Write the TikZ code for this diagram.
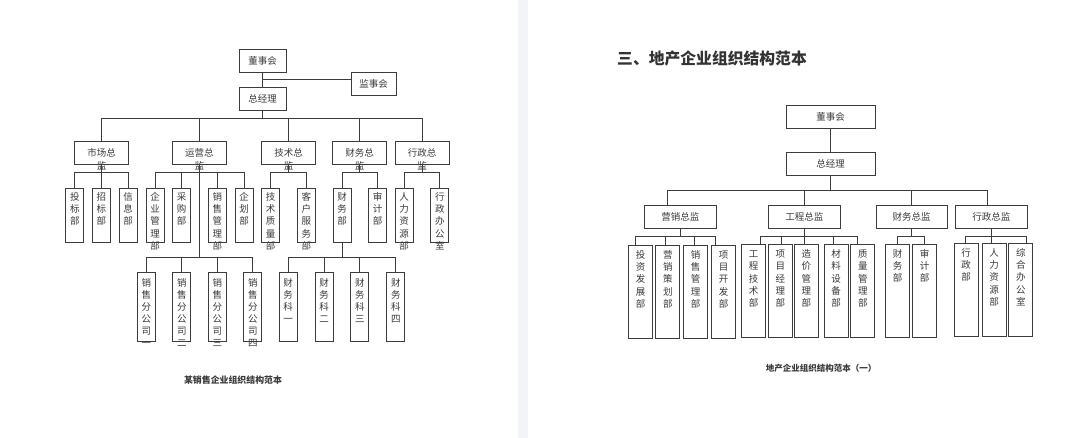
\documentclass[tikz,border=0pt]{standalone}
\usepackage{fontspec}
\setmainfont{Noto Sans CJK SC}
\usetikzlibrary{calc}
\definecolor{ln}{HTML}{3C3C3C}
\definecolor{tx}{HTML}{3A3A3A}
\definecolor{ttl}{HTML}{333333}
\definecolor{strip}{HTML}{F3F4F8}
\newcommand\fs[2]{\fontsize{#1}{#2}\selectfont}
\newcommand\vtx[2]{\raisebox{#1}[0pt][0pt]{\smash{\begin{tabular}[t]{@{}c@{}}#2\end{tabular}}}}
\tikzset{
  box/.style={draw=ln, line width=0.9pt, inner sep=0pt, text=tx, font=\fs{9.5}{12}},
  topbox/.style={box, minimum width=47, minimum height=23},
  ldir/.style={box, minimum width=54, minimum height=23.3, font=\fs{9.5}{13}},
  lsub/.style={box, minimum width=18, minimum height=54, font=\fs{9.5}{12.3}},
  lthr/.style={box, minimum width=18, minimum height=69.5, font=\fs{9.5}{12}},
  rtop/.style={box, minimum width=89, minimum height=23.3},
  rdir/.style={box, minimum width=71.3, minimum height=23.3},
  rsub/.style={box, minimum width=24, minimum height=93, font=\fs{9.5}{12.1}},
  conn/.style={draw=ln, line width=0.9pt},
  captxt/.style={inner sep=0pt, text=tx},
}
\begin{document}
\begin{tikzpicture}[x=1pt, y=-1pt]
\useasboundingbox (0,0) rectangle (1080,438);
\fill[white] (0,0) rectangle (1080,438);
\fill[strip] (517.7,0) rectangle (527.7,438);

% ---------------- left chart ----------------
\node[topbox] (a0) at (262.5,60.5) {董事会};
\node[topbox, minimum width=45] (js) at (373.5,83.5) {监事会};
\node[topbox] (zjl) at (262.5,99) {总经理};
\coordinate (jsj) at ($(js.north west)!0.35!(js.south west)$);
\draw[conn] (a0.south) -- (zjl.north);
\draw[conn] (jsj) -- (jsj -| a0.south);

\node[ldir] (m1) at (101.5,152.7) {\vtx{-4.1pt}{市场总\\监}};
\node[ldir] (m2) at (199.3,152.7) {\vtx{-4.1pt}{运营总\\监}};
\node[ldir] (m3) at (288.5,152.7) {\vtx{-4.1pt}{技术总\\监}};
\node[ldir] (m4) at (359.5,152.7) {\vtx{-4.1pt}{财务总\\监}};
\node[ldir] (m5) at (422,152.7) {\vtx{-4.1pt}{行政总\\监}};

\coordinate (LB) at (0,118.3);
\coordinate (SB) at (0,172.7);
\coordinate (TB) at (0,257.3);
\draw[conn] (zjl.south) -- (zjl.south |- LB);
\draw[conn] (m1.north) |- (m5.north |- LB) -- (m5.north);
\foreach \m in {m2,m3,m4} \draw[conn] (\m.north) -- (\m.north |- LB);

\node[lsub] (s1) at (74.8,215) {\vtx{14.7pt}{投\\标\\部}};
\node[lsub] (s2) at (101.3,215) {\vtx{14.7pt}{招\\标\\部}};
\node[lsub] (s3) at (128.2,215) {\vtx{14.7pt}{信\\息\\部}};
\node[lsub] (s4) at (155.2,215) {\vtx{14.7pt}{企\\业\\管\\理\\部}};
\node[lsub] (s5) at (181.7,215) {\vtx{14.7pt}{采\\购\\部}};
\node[lsub] (s6) at (217.3,215) {\vtx{14.7pt}{销\\售\\管\\理\\部}};
\node[lsub] (s7) at (244,215) {\vtx{14.7pt}{企\\划\\部}};
\node[lsub] (s8) at (270.7,215) {\vtx{14.7pt}{技\\术\\质\\量\\部}};
\node[lsub] (s9) at (306.3,215) {\vtx{14.7pt}{客\\户\\服\\务\\部}};
\node[lsub] (s10) at (342,215) {\vtx{14.7pt}{财\\务\\部}};
\node[lsub] (s11) at (377.7,215) {\vtx{14.7pt}{审\\计\\部}};
\node[lsub] (s12) at (404,215) {\vtx{14.7pt}{人\\力\\资\\源\\部}};
\node[lsub] (s13) at (439.9,215) {\vtx{14.7pt}{行\\政\\办\\公\\室}};

% sub buses
\draw[conn] (m1.south) -- (m1.south |- SB);
\draw[conn] (s1.north) |- (s3.north |- SB) -- (s3.north);
\draw[conn] (s2.north) -- (s2.north |- SB);

\draw[conn] (m2.south) -- (m2.south |- TB);
\draw[conn] (s4.north) |- (s7.north |- SB) -- (s7.north);
\draw[conn] (s5.north) -- (s5.north |- SB);
\draw[conn] (s6.north) -- (s6.north |- SB);

\draw[conn] (m3.south) -- (m3.south |- SB);
\draw[conn] (s8.north) |- (s9.north |- SB) -- (s9.north);

\draw[conn] (m4.south) -- (m4.south |- SB);
\draw[conn] (s10.north) |- (s11.north |- SB) -- (s11.north);

\draw[conn] (m5.south) -- (m5.south |- SB);
\draw[conn] (s12.north) |- (s13.north |- SB) -- (s13.north);

% third level
\node[lthr] (t1) at (146.3,307.2) {\vtx{20.6pt}{销\\售\\分\\公\\司\\一}};
\node[lthr] (t2) at (181.8,307.2) {\vtx{20.6pt}{销\\售\\分\\公\\司\\二}};
\node[lthr] (t3) at (217.3,307.2) {\vtx{20.6pt}{销\\售\\分\\公\\司\\三}};
\node[lthr] (t4) at (252.8,307.2) {\vtx{20.6pt}{销\\售\\分\\公\\司\\四}};
\node[lthr] (t5) at (288.2,307.2) {\vtx{20.6pt}{财\\务\\科\\一}};
\node[lthr] (t6) at (324.2,307.2) {\vtx{20.6pt}{财\\务\\科\\二}};
\node[lthr] (t7) at (359.8,307.2) {\vtx{20.6pt}{财\\务\\科\\三}};
\node[lthr] (t8) at (395.8,307.2) {\vtx{20.6pt}{财\\务\\科\\四}};

\draw[conn] (t1.north) |- (t4.north |- TB) -- (t4.north);
\draw[conn] (t2.north) -- (t2.north |- TB);
\draw[conn] (t3.north) -- (t3.north |- TB);
\draw[conn] (s10.south) -- (s10.south |- TB);
\draw[conn] (t5.north) |- (t8.north |- TB) -- (t8.north);
\draw[conn] (t6.north) -- (t6.north |- TB);
\draw[conn] (t7.north) -- (t7.north |- TB);

\node[captxt, font=\bfseries\fs{8.9}{10}] (cap1) at (233,380) {某销售企业组织结构范本};

% ---------------- right chart ----------------
\node[captxt, text=ttl, font=\bfseries\fs{15.8}{18}] (title) at (712,58.3) {三、地产企业组织结构范本};

\node[rtop] (rds) at (830.7,117.3) {董事会};
\node[rtop] (rzj) at (830.7,163.7) {总经理};
\draw[conn] (rds.south) -- (rzj.north);

\node[rdir] (g1) at (680.3,217.3) {营销总监};
\node[rdir] (g2) at (804.3,217.3) {工程总监};
\node[rdir] (g3) at (911.7,217.3) {财务总监};
\node[rdir] (g4) at (991.3,217.3) {行政总监};

\coordinate (RB) at (0,190.7);
\coordinate (RS) at (0,236);
\draw[conn] (rzj.south) -- (rzj.south |- RB);
\draw[conn] ([xshift=-12.6pt]g1.north) |- ([xshift=-4pt]g4.north |- RB) -- ([xshift=-4pt]g4.north);
\draw[conn] (g2.north) -- (g2.north |- RB);
\draw[conn] ([xshift=-0.7pt]g3.north) -- ([xshift=-0.7pt]g3.north |- RB);

\node[rsub] (r1) at (640.5,291.7) {\vtx{32.9pt}{投\\资\\发\\展\\部}};
\node[rsub] (r2) at (667.8,291.7) {\vtx{32.9pt}{营\\销\\策\\划\\部}};
\node[rsub] (r3) at (695.5,291.7) {\vtx{32.9pt}{销\\售\\管\\理\\部}};
\node[rsub] (r4) at (723.5,291.7) {\vtx{32.9pt}{项\\目\\开\\发\\部}};
\node[rsub] (r5) at (753.5,290.8) {\vtx{32.9pt}{工\\程\\技\\术\\部}};
\node[rsub] (r6) at (780.3,290.8) {\vtx{32.9pt}{项\\目\\经\\理\\部}};
\node[rsub] (r7) at (806.3,290.8) {\vtx{32.9pt}{造\\价\\管\\理\\部}};
\node[rsub] (r8) at (836.2,290.8) {\vtx{32.9pt}{材\\料\\设\\备\\部}};
\node[rsub] (r9) at (862.8,290.8) {\vtx{32.9pt}{质\\量\\管\\理\\部}};
\node[rsub] (r10) at (897.5,290.5) {\vtx{32.9pt}{财\\务\\部}};
\node[rsub] (r11) at (924.7,290.5) {\vtx{32.9pt}{审\\计\\部}};
\node[rsub] (r12) at (966,289.7) {\vtx{32.9pt}{行\\政\\部}};
\node[rsub] (r13) at (994.2,289.7) {\vtx{32.9pt}{人\\力\\资\\源\\部}};
\node[rsub] (r14) at (1020.8,289.7) {\vtx{32.9pt}{综\\合\\办\\公\\室}};

\draw[conn] (g1.south) -- (g1.south |- RS);
\draw[conn] ([xshift=-5.2pt]r1.north) |- ([xshift=-8.2pt]r4.north |- RS) -- ([xshift=-8.2pt]r4.north);
\draw[conn] ([xshift=-2.8pt]r2.north) -- ([xshift=-2.8pt]r2.north |- RS);
\draw[conn] ([xshift=-0.8pt]r3.north) -- ([xshift=-0.8pt]r3.north |- RS);

\draw[conn] (g2.south) -- (g2.south |- r7.north);
\draw[conn] ([xshift=6.5pt]r5.north) |- ([xshift=-5.1pt]r9.north |- RS) -- ([xshift=-5.1pt]r9.north);
\draw[conn] ([xshift=0.7pt]r6.north) -- ([xshift=0.7pt]r6.north |- RS);
\draw[conn] ([xshift=-3.2pt]r8.north) -- ([xshift=-3.2pt]r8.north |- RS);

\draw[conn] ([xshift=-0.7pt]g3.south) -- ([xshift=-0.7pt]g3.south |- RS);
\draw[conn] (r10.north) |- (r11.north |- RS) -- (r11.north);

\draw[conn] (g4.south) -- (g4.south |- r13.north);
\draw[conn] ([xshift=-1pt]r12.north) |- ([xshift=5.9pt]r14.north |- RS) -- ([xshift=5.9pt]r14.north);

\node[captxt, font=\bfseries\fs{8.5}{10}] (cap2) at (821.2,368.3) {地产企业组织结构范本（一）};
\end{tikzpicture}
\end{document}
